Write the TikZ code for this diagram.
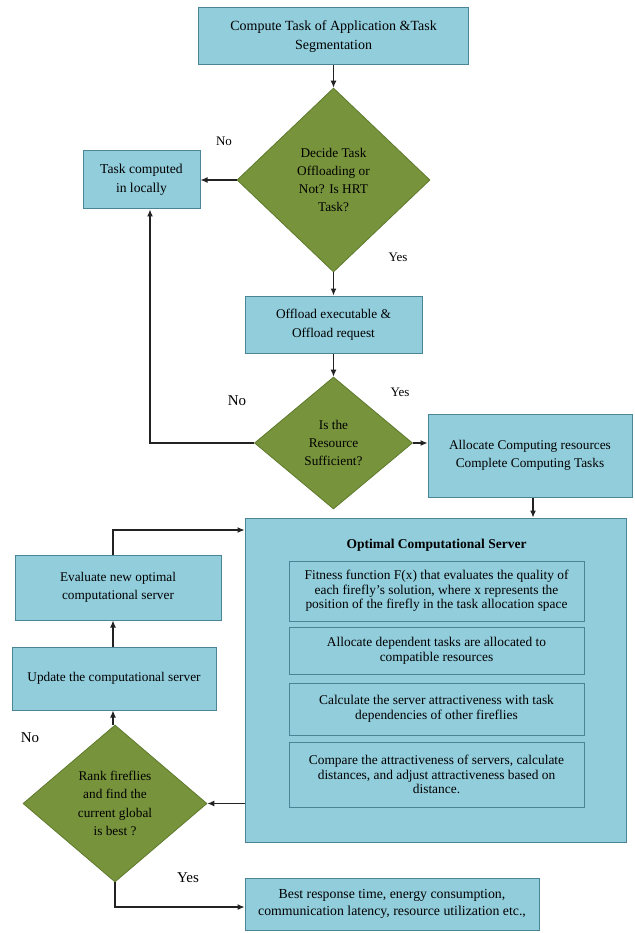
\documentclass[tikz,border=0pt]{standalone}
\usepackage{fontspec}
\setmainfont{Liberation Serif}
\usetikzlibrary{shapes.geometric,arrows.meta}
\definecolor{boxfill}{HTML}{92CDDC}
\definecolor{boxline}{HTML}{4A8596}
\definecolor{dfill}{HTML}{77933C}
\definecolor{dline}{HTML}{5E7A2C}
\definecolor{arr}{HTML}{222222}
\tikzset{
  pbox/.style={draw=boxline, fill=boxfill, line width=1pt, align=center, inner sep=0pt,
    font=\fontsize{13.3pt}{18.5pt}\selectfont},
  ibox/.style={draw=boxline, fill=boxfill, line width=1pt, align=center, inner sep=0pt,
    minimum width=295pt, font=\fontsize{13.4pt}{14.6pt}\selectfont},
  dec/.style={diamond, draw=dline, fill=dfill, line width=0.8pt, align=center, inner sep=0pt,
    font=\fontsize{13.3pt}{18.3pt}\selectfont},
  lbl/.style={font=\fontsize{13pt}{15pt}\selectfont},
  conn/.style={draw=arr, line width=1.1pt, -{Latex[length=7pt,width=6pt]}},
}
\begin{document}
\begin{tikzpicture}[x=1pt,y=-1pt]
\useasboundingbox (0,0) rectangle (634,933);
% nodes
\node[pbox, minimum width=270pt, minimum height=57pt, font=\fontsize{14pt}{19.5pt}\selectfont] (top) at (333.5,36.5)
  {Compute Task of Application \&Task\\Segmentation};
\node[dec, minimum width=193pt, minimum height=184pt] (d1) at (333.5,180)
  {Decide Task\\Offloading or\\Not? Is HRT\\Task?};
\node[pbox, minimum width=117pt, minimum height=58pt, font=\fontsize{13.6pt}{18.5pt}\selectfont] (local) at (141.5,180)
  {Task computed\\in locally};
\node[pbox, minimum width=177pt, minimum height=57pt] (off) at (333.5,324.5)
  {Offload executable \&\\Offload request};
\node[dec, minimum width=158pt, minimum height=132pt] (d2) at (333.5,443)
  {Is the\\Resource\\Sufficient?};
\node[pbox, minimum width=204pt, minimum height=83pt] (alloc) at (530,455.5)
  {Allocate Computing resources\\Complete Computing Tasks};
\node[pbox, minimum width=381pt, minimum height=324pt] (opt) at (435.5,680) {};
\node[font=\fontsize{13.5pt}{15pt}\selectfont\bfseries] (optt) at (436.5,545) {Optimal Computational Server};
\node[ibox, minimum height=60pt] (i1) at (436.5,591)
  {Fitness function F(x) that evaluates the quality of\\each firefly's solution, where x represents the\\position of the firefly in the task allocation space};
\node[ibox, minimum height=47pt] (i2) at (436.5,650.5)
  {Allocate dependent tasks are allocated to\\compatible resources};
\node[ibox, minimum height=52pt] (i3) at (436.5,709)
  {Calculate the server attractiveness  with task\\dependencies of other fireflies};
\node[ibox, minimum height=65pt] (i4) at (436.5,774.5)
  {Compare the attractiveness of servers, calculate\\distances, and adjust attractiveness based on\\distance.};
\node[pbox, minimum width=206pt, minimum height=65pt] (eval) at (118,587.5)
  {Evaluate new optimal\\computational server};
\node[pbox, minimum width=204pt, minimum height=63pt] (upd) at (114,678.5)
  {Update the computational server};
\node[dec, minimum width=184pt, minimum height=157pt] (d3) at (115,803.5)
  {Rank fireflies\\and find the\\current global\\is best ?};
\node[pbox, minimum width=294pt, minimum height=52pt, font=\fontsize{13.8pt}{17.5pt}\selectfont] (best) at (392,904)
  {Best response time, energy consumption,\\communication latency, resource utilization etc.,};
% labels
\node[lbl] (no1) at (224,141) {No};
\node[lbl] (yes1) at (398,257) {Yes};
\node[lbl, font=\fontsize{15pt}{17pt}\selectfont] (no2) at (237,401) {No};
\node[lbl] (yes2) at (400,392) {Yes};
\node[lbl, font=\fontsize{15pt}{17pt}\selectfont] (no3) at (30,738) {No};
\node[lbl, font=\fontsize{15pt}{17pt}\selectfont] (yes3) at (188,878) {Yes};
% helper coordinates
\coordinate (c1) at (150,443);
\coordinate (c2) at (113,530);
\coordinate (c3) at (115,907);
% connectors
\draw[conn] (top.south) -- (d1.north);
\draw[conn] (d1.west) -- (local.east);
\draw[conn] (d1.south) -- (off.north);
\draw[conn] (off.south) -- (d2.north);
\draw[conn] (d2.east) -- (alloc.west |- d2.east);
\draw[conn] (d2.west) -- (c1) -- (c1 |- local.south);
\draw[conn] (alloc.south -| 533,0) -- (533,0 |- opt.north);
\draw[conn] (opt.west |- d3.east) -- (d3.east);
\draw[conn] (d3.north -| 113,0) -- (113,0 |- upd.south);
\draw[conn] (upd.north -| 113,0) -- (113,0 |- eval.south);
\draw[conn] (eval.north -| c2) -- (c2) -- (c2 -| opt.west);
\draw[conn] (d3.south) -- (c3) -- (c3 -| best.west);
\end{tikzpicture}
\end{document}
